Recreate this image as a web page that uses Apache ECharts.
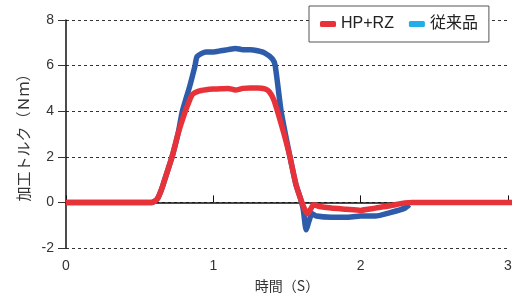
<!DOCTYPE html>
<html>
<head>
<meta charset="utf-8">
<script src="https://cdn.jsdelivr.net/npm/echarts@6/dist/echarts.min.js"></script>
<style>
  html, body { margin: 0; padding: 0; background: #fff; }
  #chart { width: 517px; height: 303px; }
</style>
</head>
<body>
<div id="chart"></div>
<script>
// 時間 (s) / 加工トルク (Nm)
const hpTime = [0, 0.58, 0.60, 0.62, 0.65, 0.68, 0.72, 0.76, 0.81, 0.84, 0.86, 0.90, 0.95, 1.0, 1.05, 1.1, 1.15, 1.2, 1.25, 1.3, 1.35, 1.38, 1.41, 1.44, 1.48, 1.52, 1.56, 1.59, 1.62, 1.64, 1.66, 1.68, 1.72, 1.8, 1.9, 2.0, 2.05, 2.1, 2.2, 2.3, 2.35, 3.05]
const hpTorque = [0, 0, 0.05, 0.15, 0.6, 1.2, 2.0, 3.0, 4.0, 4.5, 4.75, 4.88, 4.94, 4.97, 4.98, 5.0, 4.93, 5.0, 5.02, 5.02, 4.98, 4.85, 4.5, 3.9, 3.0, 2.0, 0.8, 0.2, -0.3, -0.5, -0.3, -0.1, -0.18, -0.25, -0.3, -0.35, -0.3, -0.25, -0.15, -0.02, 0, 0]

const oldTime = [0, 0.58, 0.60, 0.62, 0.65, 0.68, 0.72, 0.76, 0.79, 0.84, 0.876, 0.89, 0.95, 1.0, 1.05, 1.1, 1.15, 1.2, 1.25, 1.3, 1.35, 1.40, 1.42, 1.46, 1.52, 1.56, 1.59, 1.61, 1.63, 1.65, 1.67, 1.70, 1.8, 1.9, 2.0, 2.1, 2.2, 2.3, 2.33]
const oldTorque = [0, 0, 0.05, 0.15, 0.6, 1.2, 2.0, 3.0, 4.0, 5.1, 6.0, 6.4, 6.6, 6.6, 6.65, 6.7, 6.75, 6.7, 6.7, 6.65, 6.55, 6.3, 6.0, 4.0, 2.0, 0.8, 0.2, -0.3, -1.2, -0.8, -0.5, -0.6, -0.65, -0.65, -0.6, -0.6, -0.45, -0.25, -0.1]

const seriesNames = ['HP+RZ', '従来品']
const xTicks = { min: 0, max: 3, step: 1 }
const yTicks = { min: -2, max: 8, step: 2 }

const zip = (xs, ys) => xs.map((x, i) => [x, ys[i]])

const chart = echarts.init(document.getElementById('chart'))
const textColor = '#333'

chart.setOption({
  animation: false,
  grid: { left: 66, right: 9, top: 20, bottom: 55 },
  legend: {
    left: 309,
    top: 6,
    width: 160,
    padding: [10, 11, 10, 11],
    borderColor: '#555',
    borderWidth: 1,
    backgroundColor: '#fff',
    icon: 'roundRect',
    itemWidth: 16,
    itemHeight: 6,
    itemGap: 15,
    textStyle: { fontSize: 16, color: '#222', fontFamily: 'Liberation Sans, Noto Sans CJK JP, sans-serif' },
    data: [
      { name: seriesNames[0] },
      { name: seriesNames[1], itemStyle: { color: '#20aee8' } }
    ]
  },
  xAxis: {
    type: 'value',
    min: xTicks.min,
    max: xTicks.max,
    interval: xTicks.step,
    name: '時間（S）',
    nameLocation: 'middle',
    nameGap: 31,
    nameTextStyle: { fontSize: 14, color: textColor, fontFamily: 'Noto Sans CJK JP, sans-serif' },
    axisLine: { lineStyle: { color: '#111', width: 1.5 } },
    axisTick: { inside: true, length: 7, lineStyle: { color: '#111' } },
    axisLabel: { fontSize: 14, color: textColor, margin: 11 },
    splitLine: { show: false }
  },
  yAxis: {
    type: 'value',
    min: yTicks.min,
    max: yTicks.max,
    interval: yTicks.step,
    name: '加工トルク（Ｎｍ）',
    nameLocation: 'middle',
    nameRotate: 90,
    nameGap: 30,
    nameTextStyle: { fontSize: 15, color: textColor, fontFamily: 'Noto Sans CJK JP, sans-serif' },
    axisLine: { show: true, lineStyle: { color: '#111', width: 1.5 } },
    axisTick: { show: true, length: 8, lineStyle: { color: '#333' } },
    axisLabel: { fontSize: 14, color: textColor, margin: 12 },
    splitLine: { lineStyle: { color: '#333', type: [3, 3], width: 1 } }
  },
  series: [
    {
      name: seriesNames[1],
      type: 'line',
      data: zip(oldTime, oldTorque),
      showSymbol: false,
      smooth: 0.2,
      clip: false,
      color: '#2e5caa',
      lineStyle: { width: 5.5, color: '#2e5caa' },
      z: 2
    },
    {
      name: seriesNames[0],
      type: 'line',
      data: zip(hpTime, hpTorque),
      showSymbol: false,
      smooth: 0.2,
      clip: false,
      color: '#e8323a',
      lineStyle: { width: 5.5, color: '#e8323a' },
      z: 3
    }
  ]
})
</script>
</body>
</html>
